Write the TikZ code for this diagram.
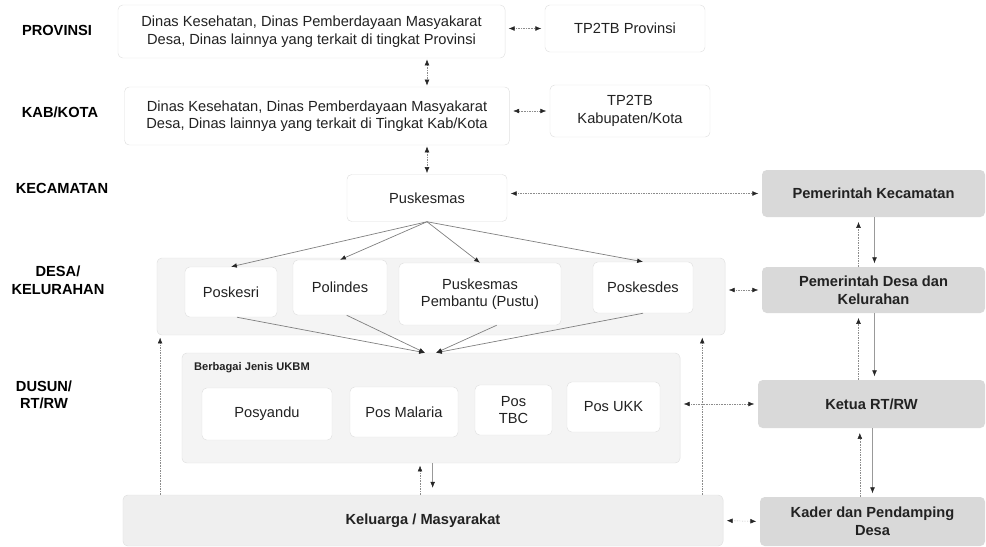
\documentclass[tikz,border=0pt]{standalone}
\usepackage{fontspec}
\setmainfont{Liberation Sans}
\usetikzlibrary{arrows.meta}

\definecolor{boxline}{HTML}{E0E0E0}
\definecolor{grpfill}{HTML}{F4F4F4}
\definecolor{govfill}{HTML}{D9D9D9}
\definecolor{famfill}{HTML}{EFEFEF}
\definecolor{inkgray}{HTML}{222222}

\begin{document}
\begin{tikzpicture}[x=0.03cm, y=-0.03cm,
    every node/.style={font=\fontsize{12.5}{15}\selectfont, text=inkgray},
    box/.style={draw=boxline, fill=white, rounded corners=4pt, align=center, inner sep=0pt},
    grp/.style={draw=boxline, fill=grpfill, rounded corners=4pt, inner sep=0pt},
    govbox/.style={fill=govfill, rounded corners=4pt, align=center, inner sep=0pt,
        font=\fontsize{12.5}{15}\selectfont\bfseries},
    lvl/.style={align=center, text=black, font=\fontsize{12.5}{15}\selectfont\bfseries},
    both/.style={densely dotted, black!45, shorten <=3pt, shorten >=3pt,
        {Latex[length=5pt,width=4pt,color=black!85]}-{Latex[length=5pt,width=4pt,color=black!85]}},
    uplink/.style={densely dotted, black!45, -{Latex[length=5pt,width=4pt,color=black!85]}},
    downlink/.style={black!40, -{Latex[length=5pt,width=4pt,color=black!85]}},
    fan/.style={black!50, semithick, -{Latex[length=5pt,width=4pt,color=black!85]}}]

\useasboundingbox (0,0) rectangle (986,546);

% level labels
\node[lvl] (lprov) at (57,30) {PROVINSI};
\node[lvl] (lkab) at (60,112) {KAB/KOTA};
\node[lvl] (lkec) at (62,188) {KECAMATAN};
\node[lvl] (ldesa) at (58,280) {DESA/\\KELURAHAN};
\node[lvl] (ldusun) at (44,395) {DUSUN/\\RT/RW};

% provinsi and kab/kota
\node[box, minimum width=11.61cm, minimum height=1.59cm] (prov) at (311.5,31.5)
    {Dinas Kesehatan, Dinas Pemberdayaan Masyakarat\\Desa, Dinas lainnya yang terkait di tingkat Provinsi};
\node[box, minimum width=4.8cm, minimum height=1.41cm] (tpprov) at (625,28.5) {TP2TB Provinsi};
\node[box, minimum width=11.55cm, minimum height=1.74cm] (kab) at (317,116)
    {Dinas Kesehatan, Dinas Pemberdayaan Masyakarat\\Desa, Dinas lainnya yang terkait di Tingkat Kab/Kota};
\node[box, minimum width=4.8cm, minimum height=1.56cm] (tpkab) at (630,111) {TP2TB\\Kabupaten/Kota};

% kecamatan
\node[box, minimum width=4.8cm, minimum height=1.41cm] (pusk) at (427,198) {Puskesmas};
\node[govbox, minimum width=6.69cm, minimum height=1.41cm] (pemkec) at (873.5,193.5) {Pemerintah Kecamatan};

% desa / kelurahan
\node[grp, minimum width=17.04cm, minimum height=2.31cm] (desagrp) at (441,296.5) {};
\node[box, minimum width=2.76cm, minimum height=1.5cm] (poskesri) at (231,292) {Poskesri};
\node[box, minimum width=2.82cm, minimum height=1.65cm] (polindes) at (340,287.5) {Polindes};
\node[box, minimum width=4.86cm, minimum height=1.86cm] (pustu) at (480,294) {Puskesmas\\Pembantu (Pustu)};
\node[box, minimum width=3.0cm, minimum height=1.53cm] (poskesdes) at (643,287.5) {Poskesdes};
\node[govbox, minimum width=6.69cm, minimum height=1.38cm] (pemdesa) at (873.5,290) {Pemerintah Desa dan\\Kelurahan};

% dusun / rt/rw
\node[grp, minimum width=14.94cm, minimum height=3.3cm] (ukbmgrp) at (431,408) {};
\node[anchor=west, font=\fontsize{9.5}{11}\selectfont\bfseries] (ukbmlbl) at (190,368) {Berbagai Jenis UKBM};
\node[box, minimum width=3.9cm, minimum height=1.56cm] (posyandu) at (267,414) {Posyandu};
\node[box, minimum width=3.24cm, minimum height=1.5cm] (posmalaria) at (404,412) {Pos Malaria};
\node[box, minimum width=2.31cm, minimum height=1.5cm] (postbc) at (513.5,410) {Pos\\TBC};
\node[box, minimum width=2.79cm, minimum height=1.5cm] (posukk) at (613.5,407) {Pos UKK};
\node[govbox, minimum width=6.81cm, minimum height=1.44cm] (ketua) at (871.5,404) {Ketua RT/RW};

% keluarga
\node[box, fill=famfill, minimum width=18.0cm, minimum height=1.53cm, font=\fontsize{12.5}{15}\selectfont\bfseries]
    (keluarga) at (423,520.5) {Keluarga / Masyarakat};
\node[govbox, minimum width=6.75cm, minimum height=1.47cm] (kader) at (872.5,521.5) {Kader dan Pendamping\\Desa};

% horizontal links
\draw[both] (prov.east |- tpprov) -- (tpprov.west);
\draw[both] (kab.east |- tpkab) -- (tpkab.west);
\draw[both] (pusk.east |- pemkec) -- (pemkec.west);
\draw[both] (desagrp.east |- pemdesa) -- (pemdesa.west);
\draw[both] (ukbmgrp.east |- ketua) -- (ketua.west);
\draw[both] (keluarga.east) -- (kader.west);

% vertical links down the middle
\draw[both, shorten <=1pt, shorten >=1pt] (prov.south -| pusk) -- (kab.north -| pusk);
\draw[both, shorten <=1pt, shorten >=1pt] (kab.south -| pusk) -- (pusk.north);

% puskesmas to desa facilities
\foreach \n in {poskesri,polindes,pustu,poskesdes}
{
    \draw[fan] (pusk.south) -- (\n.north);
}

% desa facilities to ukbm
\coordinate (ukbmL) at ([xshift=-0.18cm]ukbmgrp.north);
\coordinate (ukbmR) at ([xshift=0.15cm]ukbmgrp.north);
\draw[fan] ([xshift=0.18cm]poskesri.south) -- (ukbmL);
\draw[fan] ([xshift=0.2cm]polindes.south) -- (ukbmL);
\draw[fan] ([xshift=0.5cm]pustu.south) -- (ukbmR);
\draw[fan] (poskesdes.south) -- (ukbmR);

% ukbm and keluarga
\draw[uplink] ([xshift=-0.33cm]ukbmgrp.south |- keluarga.north) -- ([xshift=-0.33cm, yshift=-2pt]ukbmgrp.south);
\draw[downlink] ([xshift=0.05cm]ukbmgrp.south) -- ([xshift=0.05cm, yshift=6pt]ukbmgrp.south |- keluarga.north);
\draw[uplink] ([xshift=0.1cm]desagrp.south west |- keluarga.north) -- ([xshift=0.1cm, yshift=-2pt]desagrp.south west);
\draw[uplink] ([xshift=-0.69cm]desagrp.south east |- keluarga.north) -- ([xshift=-0.69cm, yshift=-2pt]desagrp.south east);

% right column
\draw[uplink] ([xshift=-0.45cm]pemdesa.north) -- ([xshift=-0.45cm, yshift=-4pt]pemkec.south);
\draw[downlink] ([xshift=0.03cm]pemkec.south) -- ([xshift=0.03cm, yshift=3pt]pemdesa.north);
\draw[uplink] ([xshift=-0.45cm]ketua.north -| pemdesa) -- ([xshift=-0.45cm, yshift=-4pt]pemdesa.south);
\draw[downlink] ([xshift=0.03cm]pemdesa.south) -- ([xshift=0.03cm, yshift=3pt]ketua.north -| pemdesa);
\draw[uplink] ([xshift=-0.35cm]kader.north -| ketua) -- ([xshift=-0.35cm, yshift=-4pt]ketua.south);
\draw[downlink] ([xshift=0.03cm]ketua.south) -- ([xshift=0.03cm, yshift=3pt]kader.north -| ketua);

\end{tikzpicture}
\end{document}
